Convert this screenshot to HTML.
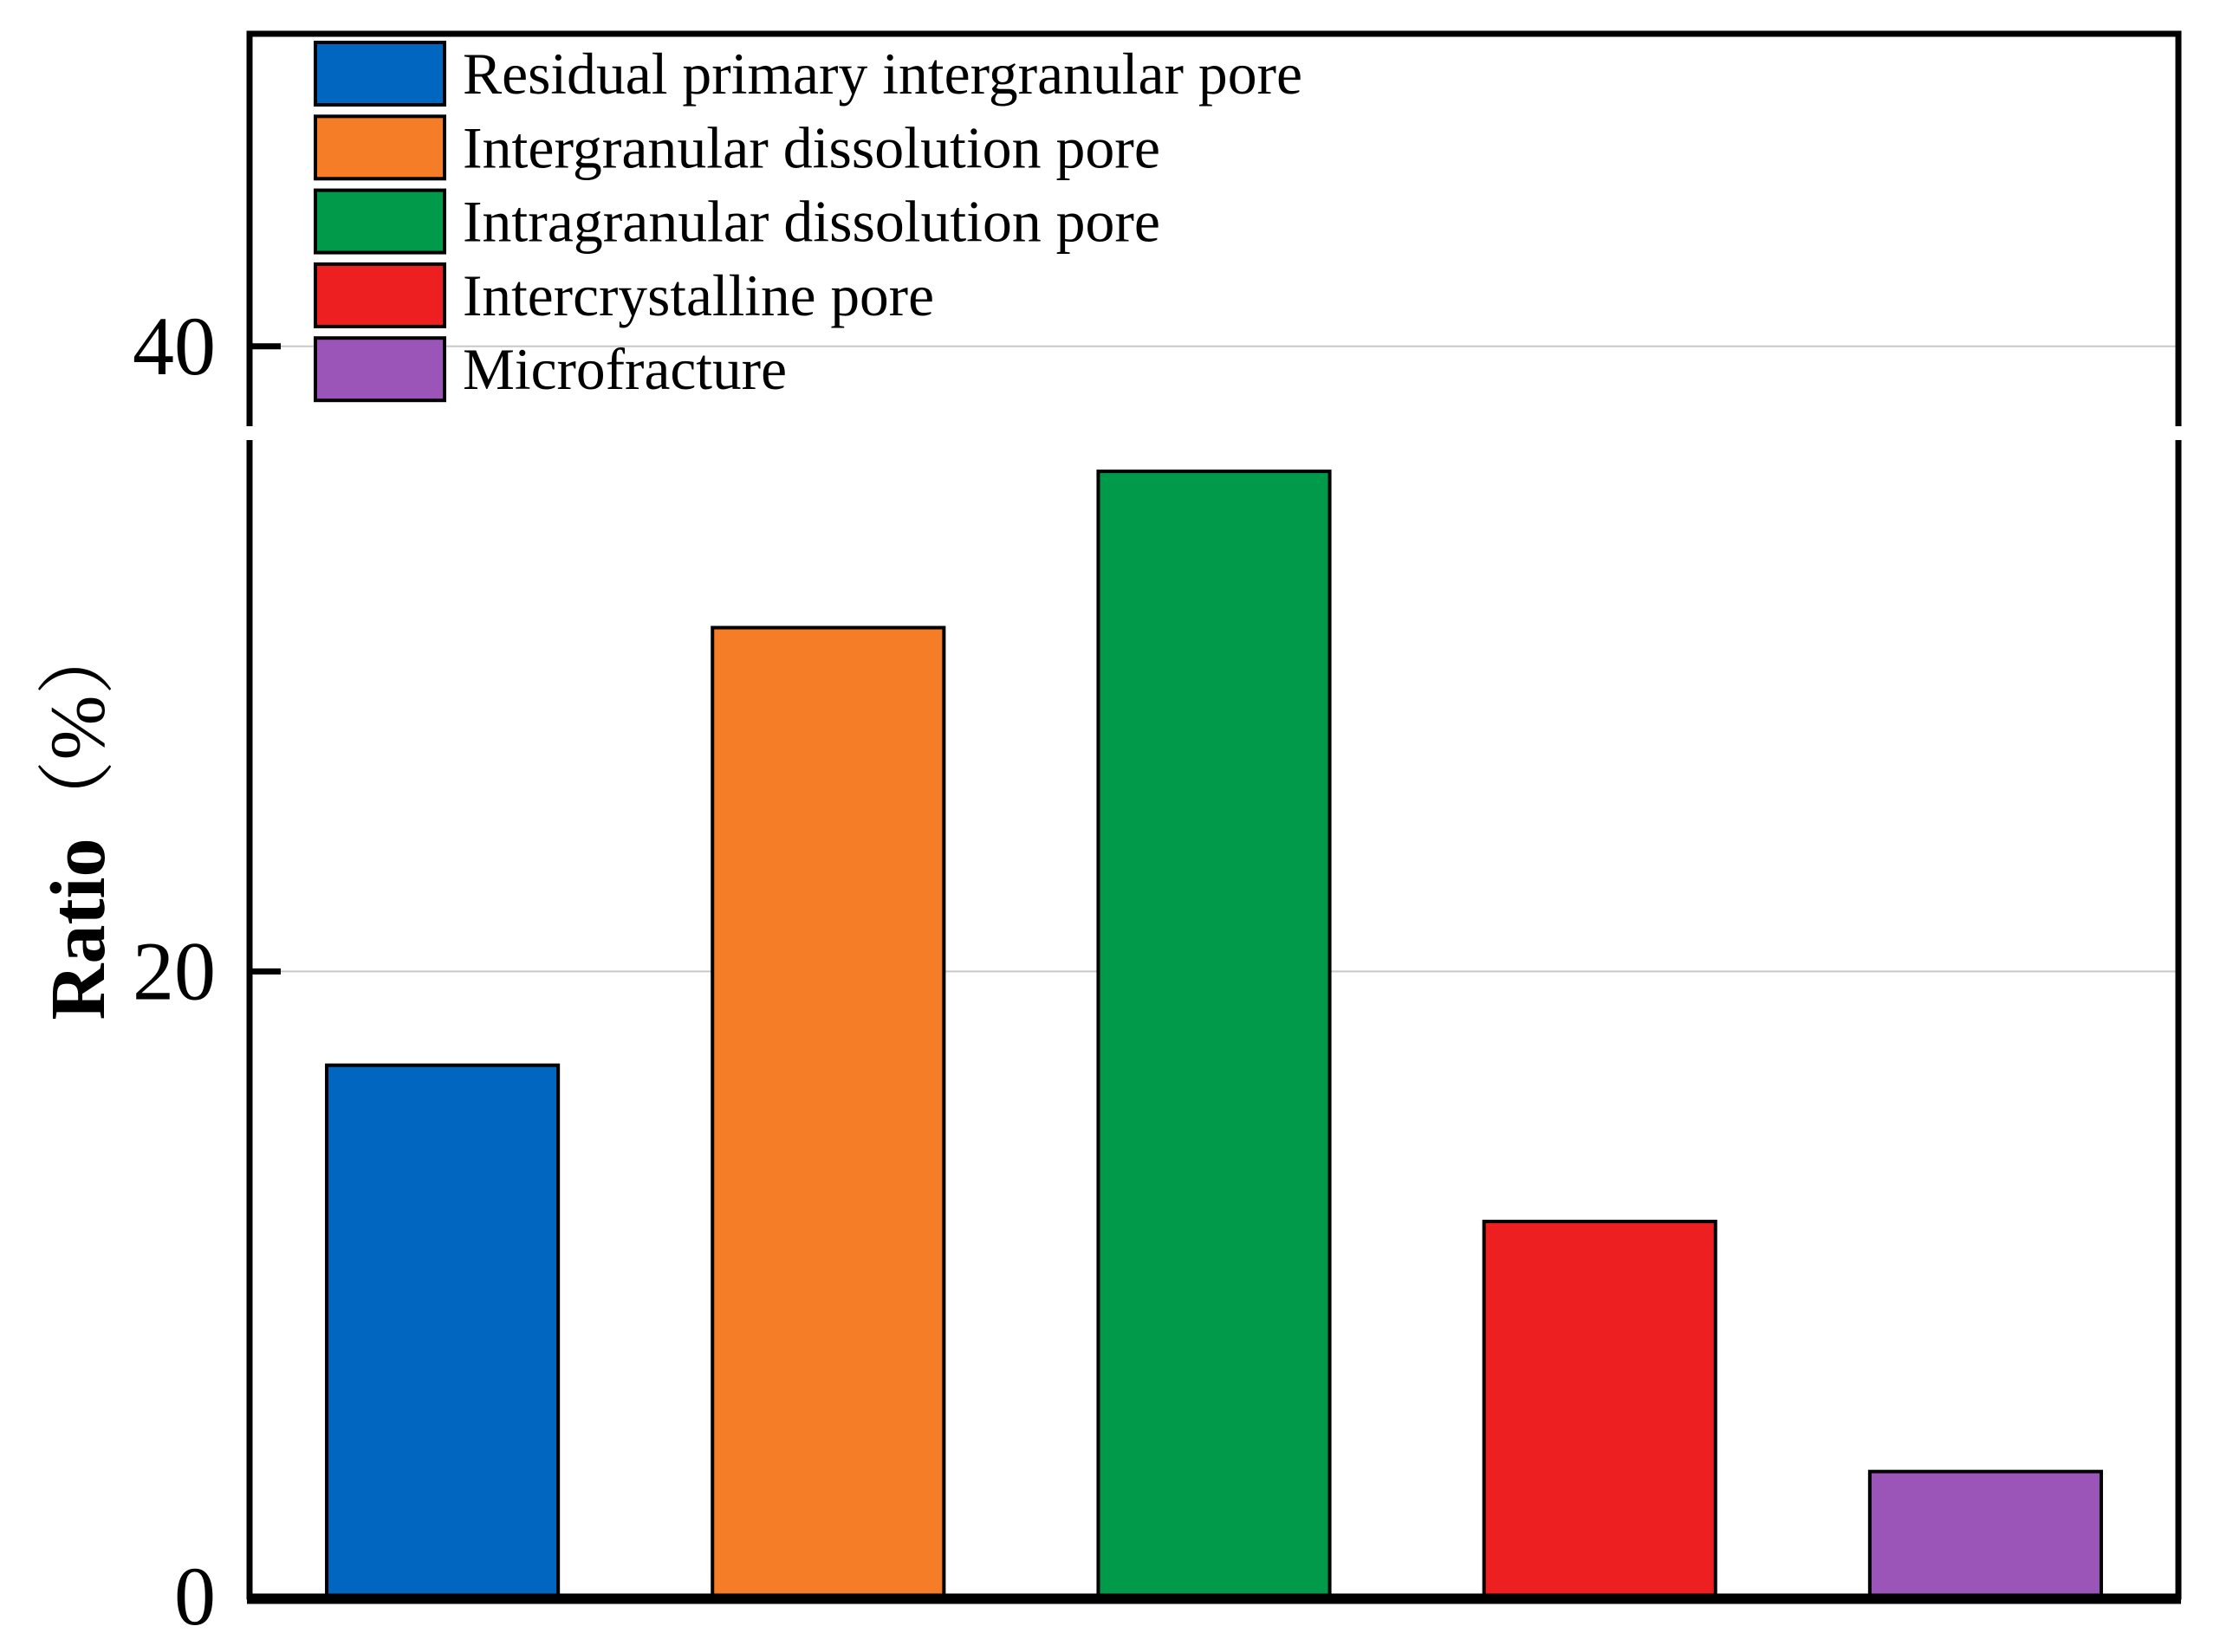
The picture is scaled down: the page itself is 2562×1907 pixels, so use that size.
<!DOCTYPE html>
<html><head><meta charset="utf-8"><style>
html,body{margin:0;padding:0;background:#fff;}
svg{display:block;}
text{font-family:"Liberation Serif","Noto Serif CJK SC",serif;fill:#000;}
</style></head><body>
<svg id="chart" width="2562" height="1907" viewBox="0 0 2562 1907" xmlns="http://www.w3.org/2000/svg"></svg>
<script>
const categories = ["Residual primary intergranular pore","Intergranular dissolution pore","Intragranular dissolution pore","Intercrystalline pore","Microfracture"];
const values = [17, 31, 36, 12, 4];
const colors = ["#0066c0","#f67d28","#009a4a","#ee1f21","#9b55b9"];
const yTicks = [0, 20, 40];
const yTickLabels = ["0","20","40"];
const legendWidths = [969, 805, 805, 544, 374];

const NS = "http://www.w3.org/2000/svg";
const svg = document.getElementById('chart');
const L = 288, R = 2514, T = 39, B = 1843, yMax = 50;
const y = v => B - (v / yMax) * (B - T);
const band = (R - L) / categories.length;
const x = i => L + band * i + band / 2;
function mk(tag, attrs, parent) {
  const e = document.createElementNS(NS, tag);
  for (const k in attrs) e.setAttribute(k, attrs[k]);
  (parent || svg).appendChild(e);
  return e;
}

yTicks.forEach((t, i) => {
  if (t === 0) return;
  const g = mk('line', {x1: L, x2: R, y1: y(t), y2: y(t), stroke: '#c8c8c8', 'stroke-width': 2});
  
  
});

values.forEach((v, i) => {
  const w = band * 0.6;
  const r = mk('rect', {x: x(i) - w / 2, y: y(v), width: w, height: B - y(v), fill: colors[i], stroke: '#000', 'stroke-width': 4});
  
  
});

const fr = mk('rect', {x: L, y: T, width: R - L, height: B - T, fill: 'none', stroke: '#000', 'stroke-width': 7});


const xa = mk('line', {x1: L - 3, x2: R + 3, y1: B + 3, y2: B + 3, stroke: '#000', 'stroke-width': 11});


[L, R].forEach((px, i) => {
  const g = mk('rect', {x: px - 6, y: 492, width: 12, height: 16, fill: '#fff'});
  
  
});

yTicks.forEach((t, i) => {
  if (t !== 0) {
    const tk = mk('line', {x1: L, x2: L + 36, y1: y(t), y2: y(t), stroke: '#000', 'stroke-width': 7});
    
    
  }
  const lb = mk('text', {x: 249, y: y(t) + 32, 'font-size': 96, 'text-anchor': 'end'});
  lb.textContent = yTickLabels[i];
  
  
});

const yt = mk('text', {x: 0, y: 0, 'font-size': 90, 'text-anchor': 'middle', transform: 'translate(120,945) rotate(-90)'});
yt.innerHTML = '<tspan font-weight="bold">Ratio</tspan><tspan>（%）</tspan>';



categories.forEach((c, i) => {
  const cy = 85 + i * 85.3;
  const g = mk('g', {});
  
  
  const s = mk('rect', {x: 364, y: cy - 36, width: 149, height: 72, fill: colors[i], stroke: '#000', 'stroke-width': 4}, g);
  
  
  const t = mk('text', {x: 534, y: cy + 23, 'font-size': 68, textLength: legendWidths[i], lengthAdjust: 'spacingAndGlyphs'}, g);
  t.textContent = c;
  
  
});
</script>
</body></html>
